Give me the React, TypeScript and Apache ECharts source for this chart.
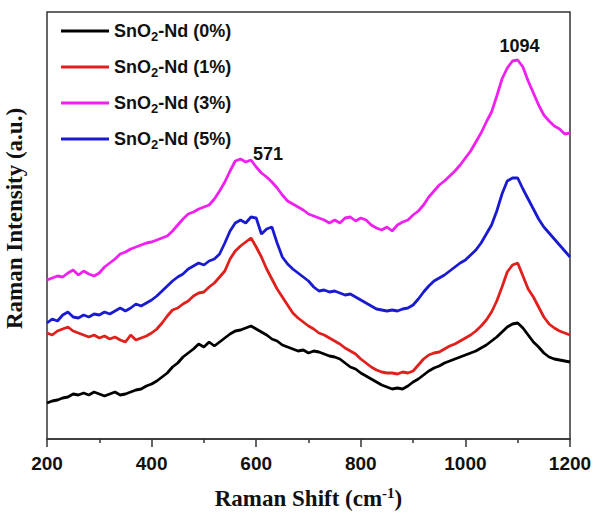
import React, { useEffect, useRef } from "react";
import * as echarts from "echarts";

const shifts: number[] = [];
for (let s = 200; s <= 1200; s += 10) shifts.push(s);

const seriesNames = ["SnO{sub|2}-Nd (0%)", "SnO{sub|2}-Nd (1%)", "SnO{sub|2}-Nd (3%)", "SnO{sub|2}-Nd (5%)"];
const seriesColors = ["#000000", "#e0201c", "#f020f0", "#1a1ad0"];

const nd0 = [36, 38, 39, 41, 42, 45, 44, 46, 44, 47, 45, 43, 45, 47, 44, 45, 47, 49, 50, 53,
  55, 58, 62, 66, 72, 76, 82, 86, 90, 95, 92, 97, 93, 97, 101, 105, 108, 109, 111, 113,
  110, 107, 104, 100, 98, 94, 92, 90, 88, 89, 86, 88, 87, 85, 83, 82, 80, 76, 72, 70,
  66, 63, 60, 57, 54, 52, 50, 51, 50, 53, 57, 60, 64, 68, 71, 73, 76, 78, 80, 82,
  84, 86, 88, 91, 94, 98, 102, 107, 112, 115, 116, 111, 104, 97, 92, 86, 82, 80, 79, 78, 77];

const nd1 = [106, 104, 108, 110, 112, 108, 106, 104, 102, 104, 101, 103, 100, 102, 99, 97, 104, 99, 101, 103,
  106, 110, 116, 123, 129, 131, 135, 138, 143, 146, 147, 152, 156, 162, 168, 180, 188, 193, 197, 201,
  192, 182, 170, 160, 150, 142, 134, 126, 121, 117, 113, 110, 106, 104, 101, 98, 95, 91, 88, 85,
  80, 76, 72, 69, 67, 66, 66, 65, 67, 66, 68, 74, 80, 84, 86, 87, 90, 93, 95, 98,
  101, 104, 108, 113, 119, 127, 138, 152, 167, 174, 176, 163, 150, 142, 132, 122, 115, 111, 108, 106, 104];

const nd3 = [159, 161, 163, 162, 166, 169, 164, 168, 165, 163, 166, 172, 176, 180, 185, 187, 190, 192, 194, 196,
  197, 199, 201, 203, 208, 214, 220, 225, 227, 230, 232, 234, 240, 248, 257, 268, 278, 280, 277, 279,
  272, 266, 262, 257, 251, 244, 238, 235, 232, 229, 225, 223, 221, 219, 216, 219, 216, 221, 222, 218,
  221, 219, 214, 211, 209, 212, 208, 214, 217, 219, 224, 228, 234, 242, 248, 254, 258, 263, 268, 274,
  281, 288, 297, 306, 317, 327, 343, 360, 371, 378, 379, 372, 358, 346, 334, 324, 318, 313, 310, 305, 306];

const nd5 = [116, 120, 118, 124, 127, 122, 121, 124, 122, 125, 124, 127, 125, 128, 131, 128, 131, 135, 133, 136,
  139, 143, 148, 153, 158, 162, 165, 170, 173, 176, 174, 178, 180, 185, 196, 208, 216, 219, 216, 222,
  221, 205, 210, 212, 196, 182, 175, 170, 166, 162, 158, 152, 148, 149, 147, 148, 146, 144, 145, 142,
  139, 136, 133, 130, 129, 128, 129, 128, 130, 131, 134, 140, 147, 153, 158, 161, 164, 168, 172, 176,
  179, 184, 189, 196, 205, 214, 228, 245, 258, 261, 261, 250, 240, 230, 220, 212, 206, 200, 194, 188, 182];

const seriesValues = [nd0, nd1, nd3, nd5];

const peakLabels = ["571", "1094"];
const peakShifts = [571, 1094];
const peakLabelHeights = [285, 393];
const peakLabelOffsets = [[27, 0], [5, 0]];

const xTicks = [200, 400, 600, 800, 1000, 1200];

const SANS = "Liberation Sans, Arial, sans-serif";
const SERIF = "Liberation Serif, Times New Roman, serif";

export default function App() {
  const ref = useRef<HTMLDivElement>(null);
  useEffect(() => {
    if (!ref.current) return;
    const chart = echarts.init(ref.current, null, { renderer: "svg" });
    const series: any[] = seriesValues.map((vals, i) => ({
      name: seriesNames[i],
      type: "line",
      data: vals.map((v, j) => [shifts[j], v]),
      showSymbol: false,
      symbol: "none",
      lineStyle: { color: seriesColors[i], width: 2.8 },
      itemStyle: { color: seriesColors[i] },
      z: 2 + i,
    }));
    series[2].markPoint = {
      symbol: "circle",
      symbolSize: 0,
      silent: true,
      data: peakLabels.map((t, k) => ({
        coord: [peakShifts[k], peakLabelHeights[k]],
        value: t,
        label: {
          show: true,
          position: "inside",
          offset: peakLabelOffsets[k],
          formatter: t,
          color: "#111",
          fontSize: 18,
          fontWeight: "bold",
          fontFamily: SANS,
        },
      })),
    };
    chart.setOption({
      animation: false,
      backgroundColor: "#ffffff",
      grid: {
        left: 47,
        top: 12,
        width: 523,
        height: 427,
        show: true,
        borderColor: "#333",
        borderWidth: 1.5,
        containLabel: false,
        outerBoundsMode: "none",
      },
      legend: {
        show: true,
        orient: "vertical",
        left: 56,
        top: 14,
        icon: "rect",
        itemWidth: 48,
        itemHeight: 3,
        itemGap: 12,
        selectedMode: false,
        textStyle: {
          fontSize: 18,
          fontWeight: "bold",
          color: "#111",
          fontFamily: SANS,
          lineHeight: 24,
          rich: {
            sub: {
              fontSize: 13,
              fontWeight: "bold",
              color: "#111",
              fontFamily: SANS,
              verticalAlign: "bottom",
              lineHeight: 14,
            },
          },
        },
        data: seriesNames,
      },
      xAxis: {
        type: "value",
        min: 200,
        max: 1200,
        interval: 200,
        axisLine: { show: true, lineStyle: { color: "#333", width: 1.5 } },
        axisTick: { show: true, inside: false, length: 8, lineStyle: { color: "#333", width: 1.5 } },
        minorTick: { show: true, splitNumber: 2, length: 4, lineStyle: { color: "#333", width: 1.5 } },
        splitLine: { show: false },
        axisLabel: {
          margin: 15,
          fontSize: 19,
          fontWeight: "bold",
          color: "#111",
          fontFamily: SANS,
          formatter: (v: number) => (xTicks.includes(v) ? String(v) : ""),
        },
        name: "Raman Shift (cm{sup|-1})",
        nameLocation: "middle",
        nameGap: 46,
        nameTextStyle: {
          fontSize: 23,
          fontWeight: "bold",
          color: "#111",
          fontFamily: SERIF,
          lineHeight: 26,
          rich: {
            sup: {
              fontSize: 15,
              fontWeight: "bold",
              color: "#111",
              fontFamily: SERIF,
              verticalAlign: "top",
              lineHeight: 14,
            },
          },
        },
      },
      yAxis: {
        type: "value",
        min: 0,
        max: 427,
        axisLine: { show: false },
        axisTick: { show: false },
        axisLabel: { show: false },
        splitLine: { show: false },
        name: "Raman Intensity (a.u.)",
        nameLocation: "middle",
        nameGap: 21,
        nameTextStyle: {
          fontSize: 23,
          fontWeight: "bold",
          color: "#111",
          fontFamily: SERIF,
          padding: [0, 0, 0, 14],
        },
      },
      series,
    });
    return () => chart.dispose();
  }, []);
  return <div ref={ref} style={{ width: 594, height: 519, position: "absolute", left: 0, top: 0 }} />;
}
